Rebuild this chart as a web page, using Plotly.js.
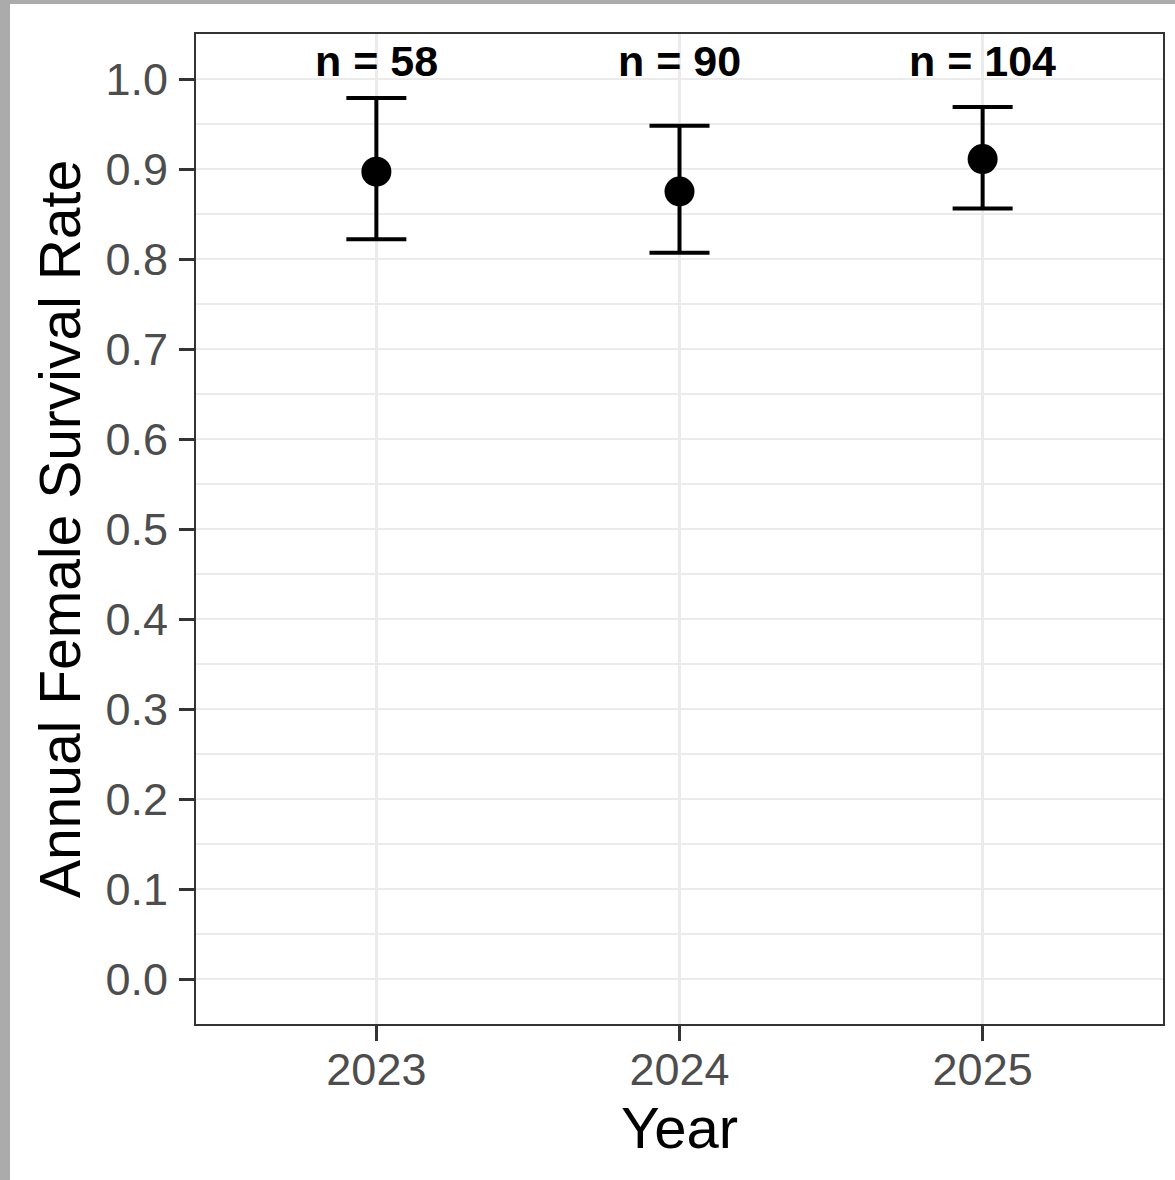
<!DOCTYPE html>
<html>
<head>
<meta charset="utf-8">
<script src="https://cdn.plot.ly/plotly-3.0.1.min.js"></script>
<style>
  html, body { margin: 0; padding: 0; background: #ababab; width: 1175px; height: 1180px; overflow: hidden; }
  #chart { position: absolute; left: 10px; top: 4px; width: 1165px; height: 1176px; background: #fff; }
</style>
</head>
<body>
<div id="chart"></div>
<script>
const years = ['2023', '2024', '2025'];
const survival = [0.897, 0.875, 0.911];
const upperCI = [0.979, 0.948, 0.969];
const lowerCI = [0.822, 0.807, 0.856];
const sampleSizes = [58, 90, 104];
const yTicks = [0, 0.1, 0.2, 0.3, 0.4, 0.5, 0.6, 0.7, 0.8, 0.9, 1.0];
const labelY = 1.02;

const trace = {
  x: years,
  y: survival,
  type: 'scatter',
  mode: 'markers',
  marker: { color: '#000000', size: 30 },
  error_y: {
    type: 'data',
    symmetric: false,
    array: upperCI.map((u, i) => u - survival[i]),
    arrayminus: survival.map((s, i) => s - lowerCI[i]),
    color: '#000000',
    thickness: 4,
    width: 30
  },
  hoverinfo: 'skip'
};

const annotations = years.map((yr, i) => ({
  x: i,
  y: labelY,
  xref: 'x',
  yref: 'y',
  text: '<b>n = ' + sampleSizes[i] + '</b>',
  showarrow: false,
  yanchor: 'middle',
  font: { family: 'Liberation Sans, Arial, sans-serif', size: 43, color: '#000000' }
}));

const layout = {
  width: 1165,
  height: 1176,
  margin: { l: 186, r: 12, t: 30, b: 156 },
  paper_bgcolor: '#ffffff',
  plot_bgcolor: '#ffffff',
  showlegend: false,
  font: { family: 'Liberation Sans, Arial, sans-serif' },
  xaxis: {
    type: 'category',
    range: [-0.595, 2.595],
    showgrid: true,
    gridcolor: '#ebebeb',
    gridwidth: 2.5,
    zeroline: false,
    showline: true,
    mirror: true,
    linecolor: '#333333',
    linewidth: 2,
    ticks: 'outside',
    ticklen: 15,
    tickwidth: 3,
    tickcolor: '#333333',
    tickfont: { size: 45, color: '#4d4d4d' },
    ticklabelstandoff: -10,
    title: { text: 'Year', font: { size: 58, color: '#000000' }, standoff: 10 }
  },
  yaxis: {
    range: [-0.05, 1.05],
    tickvals: yTicks,
    ticktext: yTicks.map(v => v.toFixed(1)),
    showgrid: true,
    gridcolor: '#ebebeb',
    gridwidth: 2.5,
    minor: { dtick: 0.05, tick0: 0.05, showgrid: true, gridcolor: '#ebebeb', gridwidth: 1.3 },
    zeroline: false,
    showline: true,
    mirror: true,
    linecolor: '#333333',
    linewidth: 2,
    ticks: 'outside',
    ticklen: 15,
    tickwidth: 3,
    tickcolor: '#333333',
    tickfont: { size: 45, color: '#4d4d4d' },
    ticklabelstandoff: 2,
    title: { text: 'Annual Female Survival Rate', font: { size: 57, color: '#000000' }, standoff: 6 }
  },
  annotations: annotations
};

Plotly.newPlot('chart', [trace], layout, { staticPlot: true, displayModeBar: false });
</script>
</body>
</html>
